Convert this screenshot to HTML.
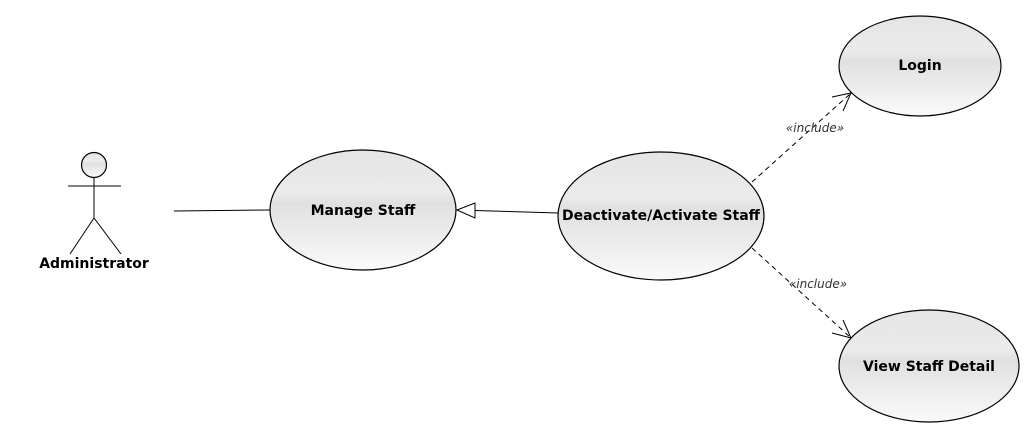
<!DOCTYPE html>
<html><head><meta charset="utf-8"><style>
html,body{margin:0;padding:0;background:#fff;}
svg{display:block;font-family:"DejaVu Sans","Liberation Sans",sans-serif;}
</style></head><body>
<svg width="1035" height="438" viewBox="0 0 1035 438">
<defs>
<linearGradient id="g" x1="0" y1="0" x2="0" y2="1">
<stop offset="0" stop-color="#e4e4e4"/>
<stop offset="0.35" stop-color="#ebebeb"/>
<stop offset="0.45" stop-color="#e0e0e0"/>
<stop offset="1" stop-color="#fafafa"/>
</linearGradient>
</defs>
<circle cx="94" cy="165" r="12.5" fill="url(#g)" stroke="#000" stroke-width="1.2"/>
<line x1="68" y1="186" x2="121" y2="186" stroke="#000"/>
<line x1="94" y1="178" x2="94" y2="218" stroke="#000"/>
<line x1="94" y1="218" x2="70" y2="254" stroke="#000"/>
<line x1="94" y1="218" x2="121" y2="254" stroke="#000"/>
<text x="94" y="268" text-anchor="middle" font-size="14" font-weight="bold">Administrator</text>
<line x1="174" y1="211" x2="270" y2="210" stroke="#000"/>
<line x1="558" y1="213" x2="475" y2="210.5" stroke="#000"/>
<polygon points="457,210 475,203 475,218" fill="#fff" stroke="#000"/>
<line x1="752" y1="182" x2="850" y2="94" stroke="#000" stroke-dasharray="5,4"/>
<polyline points="832,97 851,93 843,111" fill="none" stroke="#000"/>
<text x="815" y="132" text-anchor="middle" font-size="12" font-style="italic" fill="#333">«include»</text>
<line x1="752" y1="248" x2="850" y2="337" stroke="#000" stroke-dasharray="5,4"/>
<polyline points="832,333 851,338 843,320" fill="none" stroke="#000"/>
<text x="818" y="288" text-anchor="middle" font-size="12" font-style="italic" fill="#333">«include»</text>
<ellipse cx="363" cy="210" rx="93" ry="60" fill="url(#g)" stroke="#000" stroke-width="1.2"/>
<text x="363" y="215" text-anchor="middle" font-size="14" font-weight="bold">Manage Staff</text>
<ellipse cx="661" cy="216" rx="103" ry="64" fill="url(#g)" stroke="#000" stroke-width="1.2"/>
<text x="661" y="220" text-anchor="middle" font-size="14" font-weight="bold">Deactivate/Activate Staff</text>
<ellipse cx="920" cy="66" rx="81" ry="50" fill="url(#g)" stroke="#000" stroke-width="1.2"/>
<text x="920" y="70" text-anchor="middle" font-size="14" font-weight="bold">Login</text>
<ellipse cx="929" cy="366" rx="90" ry="56" fill="url(#g)" stroke="#000" stroke-width="1.2"/>
<text x="929" y="371" text-anchor="middle" font-size="14" font-weight="bold">View Staff Detail</text>
</svg>
</body></html>
